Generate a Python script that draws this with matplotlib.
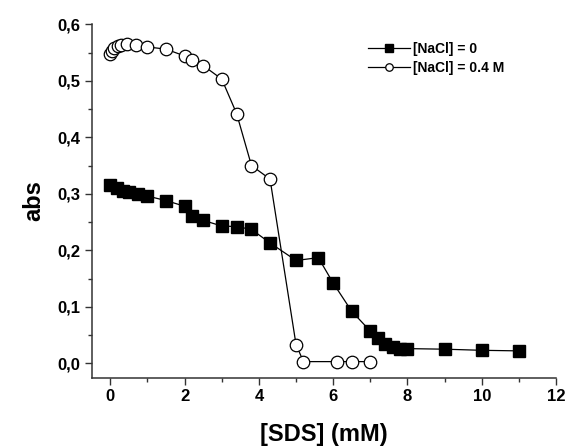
import matplotlib
matplotlib.use("Agg")
import matplotlib.pyplot as plt
from matplotlib.ticker import MultipleLocator, FuncFormatter

plt.rcParams['font.family'] = ['Liberation Sans', 'DejaVu Sans']
plt.rcParams['font.weight'] = 'bold'

# [NaCl] = 0 (filled squares)
sds_0 = [0, 0.17, 0.33, 0.5, 0.75, 1.0, 1.5, 2.0, 2.2, 2.5, 3.0, 3.4, 3.8, 4.3,
         5.0, 5.6, 6.0, 6.5, 7.0, 7.2, 7.4, 7.6, 7.8, 8.0, 9.0, 10.0, 11.0]
abs_0 = [0.316, 0.310, 0.305, 0.303, 0.299, 0.296, 0.288, 0.278, 0.260, 0.253,
         0.243, 0.242, 0.237, 0.213, 0.182, 0.187, 0.142, 0.092, 0.057, 0.044,
         0.035, 0.029, 0.026, 0.026, 0.025, 0.023, 0.022]

# [NaCl] = 0.4 M (open circles)
sds_04 = [0, 0.05, 0.1, 0.2, 0.3, 0.45, 0.7, 1.0, 1.5, 2.0, 2.2, 2.5, 3.0, 3.4,
          3.8, 4.3, 5.0, 5.2, 6.1, 6.5, 7.0]
abs_04 = [0.548, 0.553, 0.558, 0.561, 0.563, 0.565, 0.564, 0.560, 0.556, 0.544,
          0.537, 0.527, 0.503, 0.442, 0.350, 0.326, 0.033, 0.003, 0.003, 0.003,
          0.003]

labels = ['[NaCl] = 0', '[NaCl] = 0.4 M']

fig = plt.figure(figsize=(5.7, 4.47), dpi=100)
ax = fig.add_axes([0.161, 0.155, 0.8145, 0.7906])

ax.plot(sds_0, abs_0, color='black', lw=0.9, marker='s', ms=8.5,
        mfc='black', mec='black', label=labels[0])
ax.plot(sds_04, abs_04, color='black', lw=0.9, marker='o', ms=9,
        mfc='white', mec='black', mew=0.9, label=labels[1])

ax.set_xlim(-0.5, 12)
ax.set_ylim(-0.0255, 0.6)
ax.spines['top'].set_visible(False)
ax.spines['right'].set_visible(False)
for s in ['left', 'bottom']:
    ax.spines[s].set_linewidth(1.1)
    ax.spines[s].set_color('#333333')

ax.xaxis.set_major_locator(MultipleLocator(2))
ax.xaxis.set_minor_locator(MultipleLocator(1))
ax.yaxis.set_major_locator(MultipleLocator(0.1))
ax.yaxis.set_minor_locator(MultipleLocator(0.05))
ax.yaxis.set_major_formatter(FuncFormatter(lambda v, p: f"{v:.1f}".replace('.', ',').replace('-0,0', '0,0')))
ax.tick_params(which='major', direction='out', length=5, width=1, labelsize=12,
               color='#333333', pad=3)
ax.tick_params(which='minor', direction='out', length=3, width=1, color='#333333')
for lab in ax.get_xticklabels() + ax.get_yticklabels():
    lab.set_fontweight('bold')

ax.set_xlabel('[SDS] (mM)', fontsize=17, fontweight='bold', labelpad=14)
ax.set_ylabel('abs', fontsize=17, fontweight='bold', labelpad=9)

leg = ax.legend(loc='upper left', bbox_to_anchor=(0.584, 0.965), frameon=False,
                fontsize=10, handlelength=3.0, handletextpad=0.2,
                labelspacing=0.35, markerscale=0.6, borderaxespad=0)
for t in leg.get_texts():
    t.set_fontweight('bold')

fig.savefig('out.png', dpi=100)
